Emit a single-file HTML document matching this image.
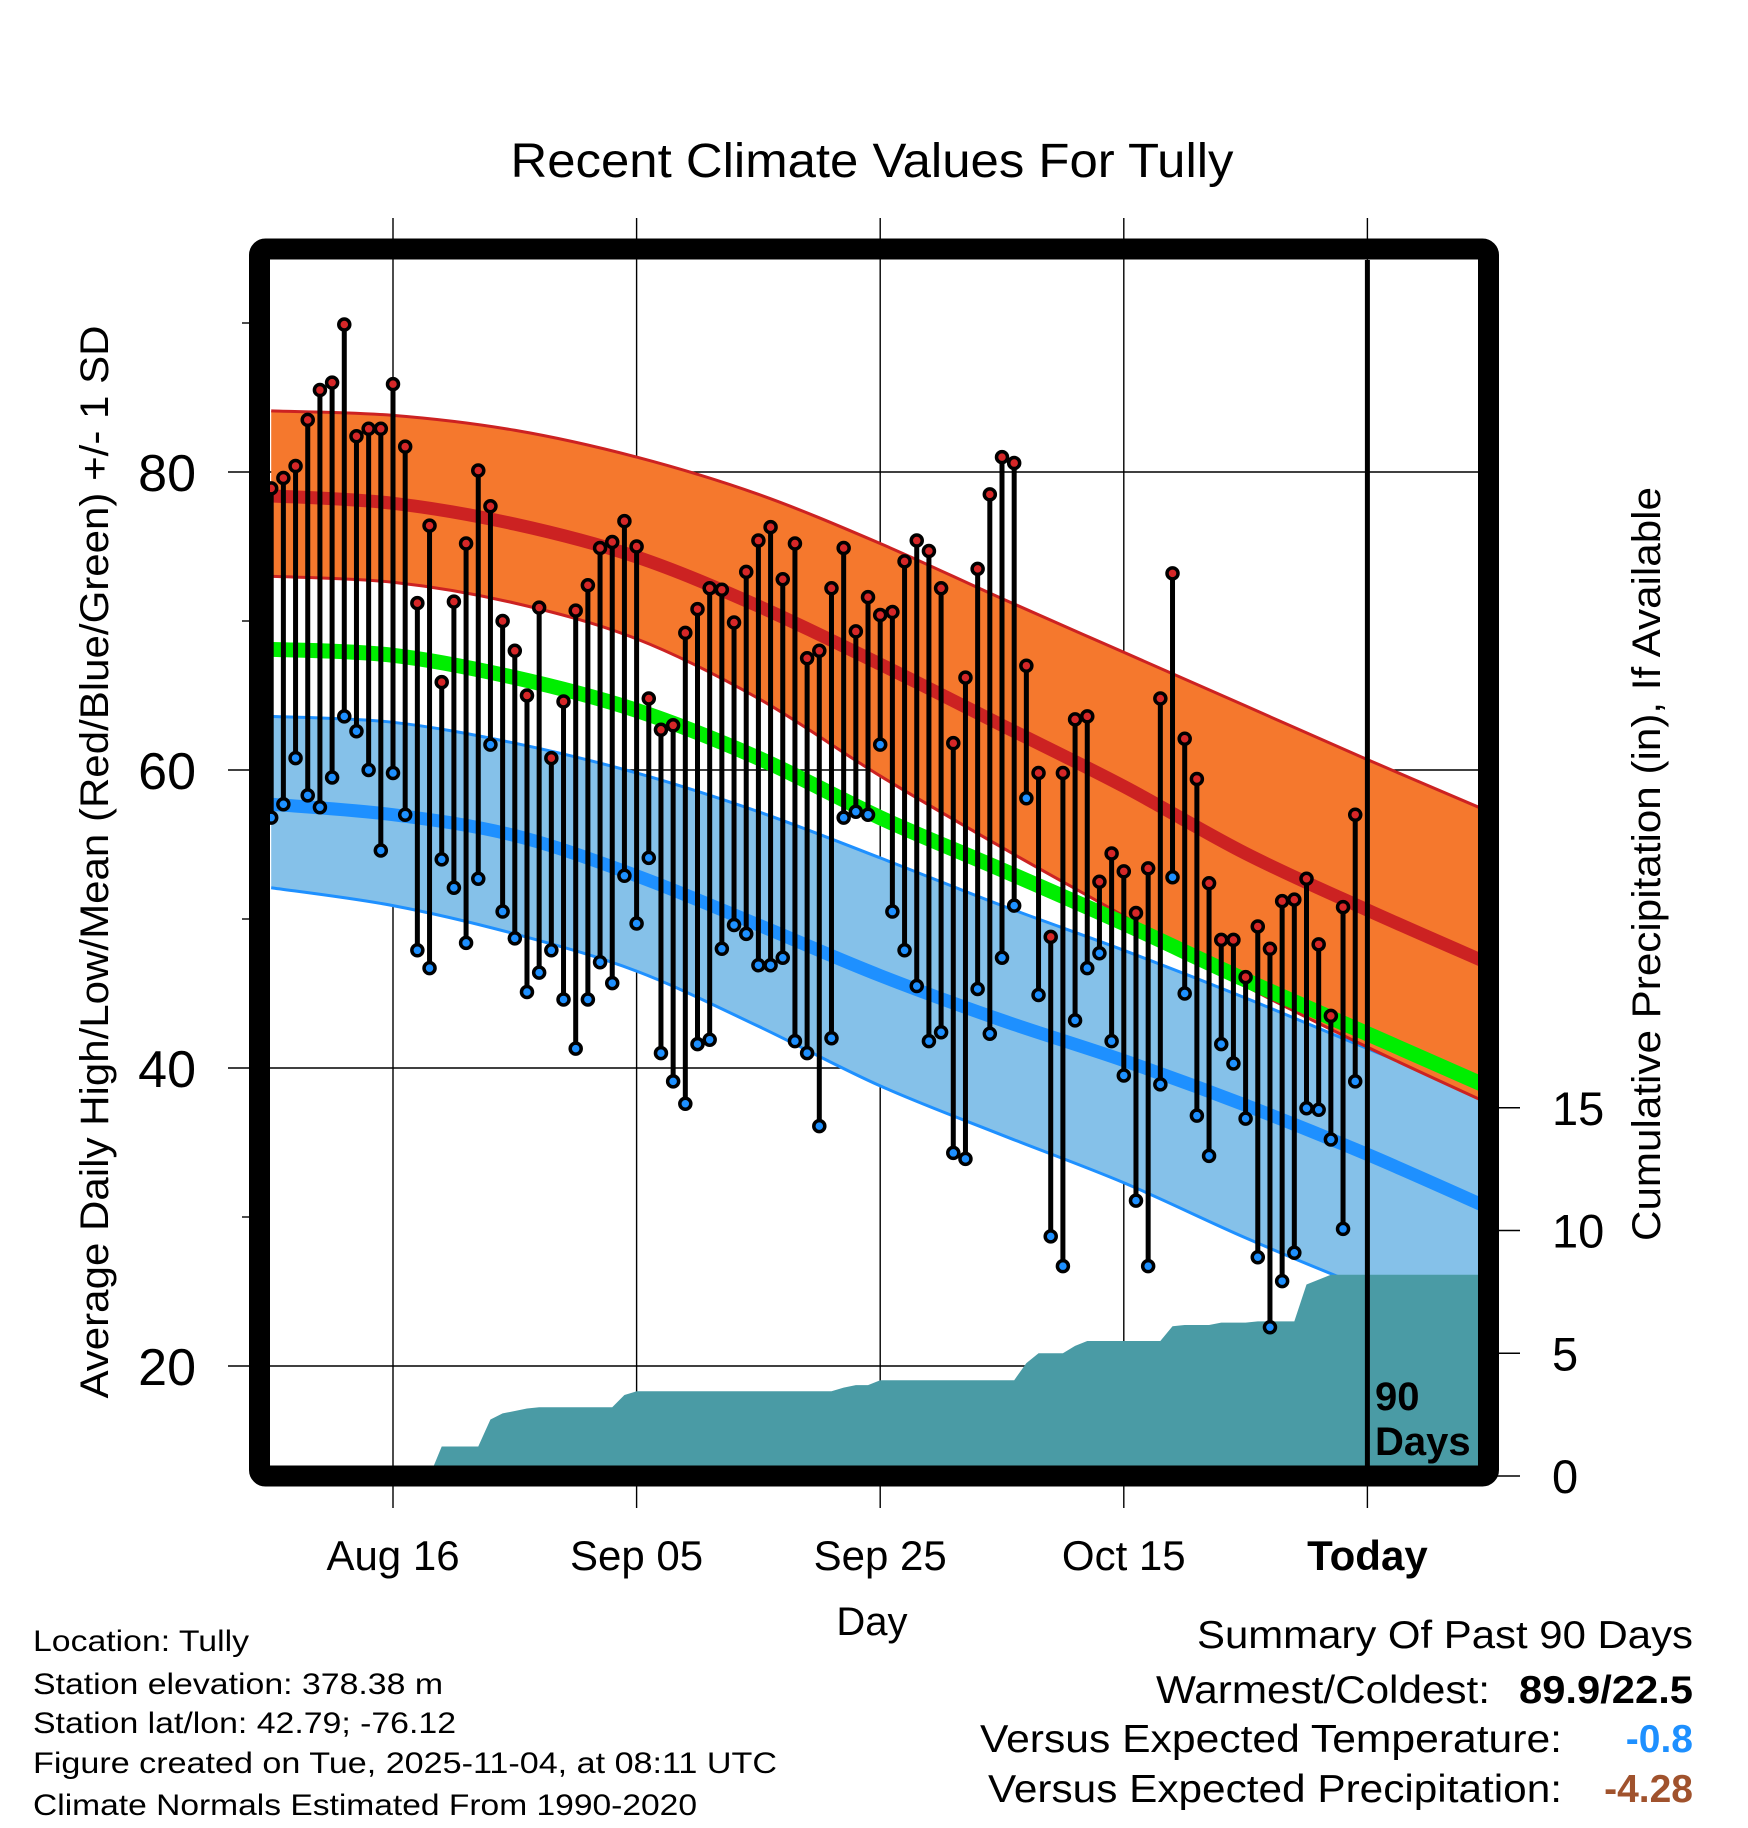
<!DOCTYPE html>
<html><head><meta charset="utf-8"><style>
html,body{margin:0;padding:0;background:#fff;}
svg{display:block;font-family:"Liberation Sans",Arial,sans-serif;}
</style></head><body>
<svg id="chart" width="1748" height="1828" viewBox="0 0 1748 1828">
<defs><clipPath id="plotclip"><rect x="270" y="260" width="1208" height="1206"/></clipPath></defs>
<text x="872" y="177" font-size="48" text-anchor="middle" textLength="723" lengthAdjust="spacingAndGlyphs">Recent Climate Values For Tully</text>
<g id="grid"></g>
<g id="plot" clip-path="url(#plotclip)"></g>
<g id="marks"></g>
<rect x="259.5" y="249" width="1229" height="1227" fill="none" stroke="#000" stroke-width="21" rx="6"/>
<g id="axes"></g>
<text x="1375" y="1410" font-size="40" font-weight="bold">90</text>
<text x="1375" y="1455" font-size="40" font-weight="bold">Days</text>
<text transform="translate(108,862) rotate(-90)" font-size="40" text-anchor="middle" textLength="1073" lengthAdjust="spacingAndGlyphs">Average Daily High/Low/Mean (Red/Blue/Green) +/- 1 SD</text>
<text transform="translate(1660,864) rotate(-90)" font-size="40" text-anchor="middle" textLength="754" lengthAdjust="spacingAndGlyphs">Cumulative Precipitation (in), If Available</text>
<text x="872" y="1635" font-size="40" text-anchor="middle">Day</text>
<g font-size="30">
<text x="33" y="1651" textLength="216" lengthAdjust="spacingAndGlyphs">Location: Tully</text>
<text x="33" y="1694" textLength="410" lengthAdjust="spacingAndGlyphs">Station elevation: 378.38 m</text>
<text x="33" y="1733" textLength="423" lengthAdjust="spacingAndGlyphs">Station lat/lon: 42.79; -76.12</text>
<text x="33" y="1773" textLength="744" lengthAdjust="spacingAndGlyphs">Figure created on Tue, 2025-11-04, at 08:11 UTC</text>
<text x="33" y="1815" textLength="664" lengthAdjust="spacingAndGlyphs">Climate Normals Estimated From 1990-2020</text>
</g>
<g font-size="39">
<text x="1693" y="1648" text-anchor="end" textLength="496" lengthAdjust="spacingAndGlyphs">Summary Of Past 90 Days</text>
<text x="1490" y="1703" text-anchor="end" textLength="334" lengthAdjust="spacingAndGlyphs">Warmest/Coldest:</text>
<text x="1693" y="1703" text-anchor="end" font-weight="bold" textLength="174" lengthAdjust="spacingAndGlyphs">89.9/22.5</text>
<text x="1562" y="1752" text-anchor="end" textLength="582" lengthAdjust="spacingAndGlyphs">Versus Expected Temperature:</text>
<text x="1693" y="1752" text-anchor="end" font-weight="bold" fill="#1E90FF">-0.8</text>
<text x="1562" y="1802" text-anchor="end" textLength="574" lengthAdjust="spacingAndGlyphs">Versus Expected Precipitation:</text>
<text x="1693" y="1802" text-anchor="end" font-weight="bold" fill="#A0522D">-4.28</text>
</g>
</svg>
<script>
// ---- data ----
const normDays = [0,10,20,30,40,50,60,70,80,90,100];
const highPlusSD = [84.1,83.8,82.8,81.0,78.5,75.2,71.5,67.9,64.3,60.7,57.2];
const highMean   = [78.4,77.9,76.5,74.3,71.0,67.1,63.0,58.9,54.4,50.6,47.0];
const highMinusSD= [73.0,72.6,71.2,68.8,64.8,59.6,54.8,50.2,45.5,41.4,37.6];
const meanTemp   = [68.1,67.7,66.2,64.0,60.8,56.8,53.3,49.7,45.9,42.3,38.7];
const lowPlusSD  = [63.6,63.2,61.8,59.8,57.2,54.1,50.9,47.9,44.7,41.3,38.0];
const lowMean    = [57.7,57.0,55.6,52.9,49.6,46.2,43.2,40.5,37.5,34.2,30.6];
const lowMinusSD = [52.1,50.9,49.0,46.5,42.8,38.8,35.5,32.3,28.6,25.2,22.0];
const dailyHigh = [78.9,79.6,80.4,83.5,85.5,86.0,89.9,82.4,82.9,82.9,85.9,81.7,71.2,76.4,65.9,71.3,75.2,80.1,77.7,70.0,
 68.0,65.0,70.9,60.8,64.6,70.7,72.4,74.9,75.3,76.7,75.0,64.8,62.7,63.0,69.2,70.8,72.2,72.1,69.9,73.3,
 75.4,76.3,72.8,75.2,67.5,68.0,72.2,74.9,69.3,71.6,70.4,70.6,74.0,75.4,74.7,72.2,61.8,66.2,73.5,78.5,
 81.0,80.6,67.0,59.8,48.8,59.8,63.4,63.6,52.5,54.4,53.2,50.4,53.4,64.8,73.2,62.1,59.4,52.4,48.6,48.6,
 46.1,49.5,48.0,51.2,51.3,52.7,48.3,43.5,50.8,57.0];
const dailyLow = [56.8,57.7,60.8,58.3,57.5,59.5,63.6,62.6,60.0,54.6,59.8,57.0,47.9,46.7,54.0,52.1,48.4,52.7,61.7,50.5,
 48.7,45.1,46.4,47.9,44.6,41.3,44.6,47.1,45.7,52.9,49.7,54.1,41.0,39.1,37.6,41.6,41.9,48.0,49.6,49.0,
 46.9,46.9,47.4,41.8,41.0,36.1,42.0,56.8,57.2,57.0,61.7,50.5,47.9,45.5,41.8,42.4,34.3,33.9,45.3,42.3,
 47.4,50.9,58.1,44.9,28.7,26.7,43.2,46.7,47.7,41.8,39.5,31.1,26.7,38.9,52.8,45.0,36.8,34.1,41.6,40.3,
 36.6,27.3,22.6,25.7,27.6,37.3,37.2,35.2,29.2,39.1];
const cumPrecip = [0,0,0,0,0,0,0,0,0,0,0,0,0,0,1.2,1.2,1.2,1.2,2.3,2.55,
 2.65,2.75,2.8,2.8,2.8,2.8,2.8,2.8,2.8,3.3,3.45,3.45,3.45,3.45,3.45,3.45,3.45,3.45,3.45,3.45,
 3.45,3.45,3.45,3.45,3.45,3.45,3.45,3.6,3.7,3.7,3.9,3.9,3.9,3.9,3.9,3.9,3.9,3.9,3.9,3.9,
 3.9,3.9,4.6,5.0,5.0,5.0,5.3,5.5,5.5,5.5,5.5,5.5,5.5,5.5,6.1,6.15,6.15,6.15,6.25,6.25,
 6.25,6.3,6.3,6.3,6.3,7.8,8.0,8.2,8.2,8.2];
const yTicks = [20,40,60,80];
const yMinor = [30,50,70,90];
const pTicks = [0,5,10,15];
const xTickDays = [10,30,50,70,90];
const xTickLabels = ["Aug 16","Sep 05","Sep 25","Oct 15","Today"];

// ---- scales ----
const X = d => 393 + (d - 10) * 12.18;
const Y = t => 472 + (80 - t) * 14.9;
const P = p => 1476 - p * 24.55;
const NS = "http://www.w3.org/2000/svg";
function mk(tag, attrs, parent) { const e = document.createElementNS(NS, tag); for (const k in attrs) e.setAttribute(k, attrs[k]); parent.appendChild(e); return e; }
function smooth(days, vals) {
  const pts = days.map((d, i) => [X(d), Y(vals[i])]);
  let s = "M" + pts[0][0] + "," + pts[0][1];
  for (let i = 0; i < pts.length - 1; i++) {
    const p0 = pts[Math.max(0, i - 1)], p1 = pts[i], p2 = pts[i + 1], p3 = pts[Math.min(pts.length - 1, i + 2)];
    const c1 = [p1[0] + (p2[0] - p0[0]) / 6, p1[1] + (p2[1] - p0[1]) / 6];
    const c2 = [p2[0] - (p3[0] - p1[0]) / 6, p2[1] - (p3[1] - p1[1]) / 6];
    s += " C" + c1 + " " + c2 + " " + p2;
  }
  return s;
}
function reverseBand(days, vals) {
  const rd = days.slice().reverse(), rv = vals.slice().reverse();
  return smooth(rd, rv).replace(/^M/, "L");
}
const grid = document.getElementById("grid");
const plot = document.getElementById("plot");
const marks = document.getElementById("marks");
const axes = document.getElementById("axes");

yTicks.forEach(t => {
  const l = mk("line", {x1: 228, x2: 1478, y1: Y(t), y2: Y(t), stroke: "#000", "stroke-width": 1.4}, grid);
  
  
  const tx = mk("text", {x: 196, y: Y(t) + 19, "font-size": 52, "text-anchor": "end"}, axes);
  tx.textContent = t;
  
  
});
yMinor.forEach(t => {
  const l = mk("line", {x1: 242, x2: 252, y1: Y(t), y2: Y(t), stroke: "#000", "stroke-width": 1.4}, axes);
  
  
});
xTickDays.forEach((d, i) => {
  const l = mk("line", {x1: X(d), x2: X(d), y1: 218, y2: 1508, stroke: "#000", "stroke-width": 1.4}, grid);
  
  
  const tx = mk("text", {x: X(d), y: 1570, "font-size": 42, "text-anchor": "middle"}, axes);
  if (i === xTickDays.length - 1) tx.setAttribute("font-weight", "bold");
  tx.textContent = xTickLabels[i];
  
  
});
pTicks.forEach(p => {
  const l = mk("line", {x1: 1490, x2: 1520, y1: P(p), y2: P(p), stroke: "#000", "stroke-width": 1.4}, axes);
  
  
  const tx = mk("text", {x: 1552, y: P(p) + 17, "font-size": 47}, axes);
  tx.textContent = p;
  
  
});

const lowBand = mk("path", {d: smooth(normDays, lowPlusSD) + " " + reverseBand(normDays, lowMinusSD) + " Z", fill: "#85C1E9"}, plot);


[lowPlusSD, lowMinusSD].forEach(arr => {
  const e = mk("path", {d: smooth(normDays, arr), fill: "none", stroke: "#1E90FF", "stroke-width": 3}, plot);
  
  
});
const highBand = mk("path", {d: smooth(normDays, highPlusSD) + " " + reverseBand(normDays, highMinusSD) + " Z", fill: "#F5782D"}, plot);


[highPlusSD, highMinusSD].forEach(arr => {
  const e = mk("path", {d: smooth(normDays, arr), fill: "none", stroke: "#CC2222", "stroke-width": 3}, plot);
  
  
});
const gLine = mk("path", {d: smooth(normDays, meanTemp), fill: "none", stroke: "#00EE00", "stroke-width": 15}, plot);


const bLine = mk("path", {d: smooth(normDays, lowMean), fill: "none", stroke: "#1E90FF", "stroke-width": 13}, plot);


const rLine = mk("path", {d: smooth(normDays, highMean), fill: "none", stroke: "#CC2222", "stroke-width": 13}, plot);



let pd = "M" + X(0) + "," + P(0);
cumPrecip.forEach((p, i) => { pd += " L" + X(i) + "," + P(p); });
const last = cumPrecip.length - 1;
pd += " L1490," + P(cumPrecip[last]) + " L1490," + P(0) + " Z";
const pr = mk("path", {d: pd, fill: "#4A9BA5"}, plot);



const tl = mk("line", {x1: X(90), x2: X(90), y1: 250, y2: 1476, stroke: "#000", "stroke-width": 5}, plot);



dailyHigh.forEach((h, i) => {
  const s = mk("line", {x1: X(i), x2: X(i), y1: Y(h), y2: Y(dailyLow[i]), stroke: "#000", "stroke-width": 5}, marks);
  
  
});
dailyHigh.forEach((h, i) => {
  const c1 = mk("circle", {cx: X(i), cy: Y(h), r: 5.5, fill: "#D62728", stroke: "#000", "stroke-width": 3.5}, marks);
  
  
  const c2 = mk("circle", {cx: X(i), cy: Y(dailyLow[i]), r: 5.5, fill: "#1E90FF", stroke: "#000", "stroke-width": 3.5}, marks);
  
  
});
</script>
</body></html>
